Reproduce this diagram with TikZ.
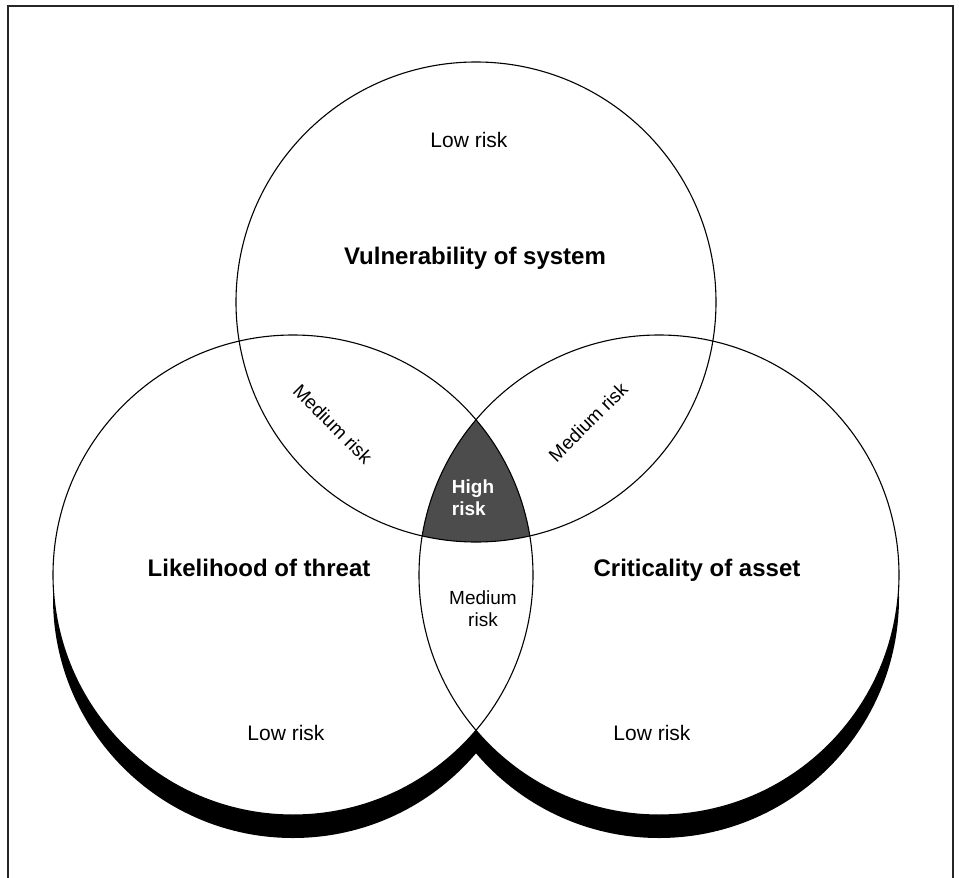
\documentclass[tikz,border=0pt]{standalone}
\usepackage{fontspec}
\setmainfont{Liberation Sans}
\begin{document}
\begin{tikzpicture}[x=1pt,y=-1pt,
  ring/.style={line width=1.1pt, draw=black},
  lowlbl/.style={font=\fontsize{21}{25}\selectfont},
  medlbl/.style={font=\fontsize{19}{22}\selectfont, align=center},
  titlelbl/.style={font=\fontsize{24}{28}\selectfont\bfseries},
  highlbl/.style={font=\fontsize{19}{22}\selectfont\bfseries, text=white, align=left}
]
\useasboundingbox (0,0) rectangle (959,878);
\fill[white] (0,0) rectangle (959,878);
% frame
\draw[line width=1.5pt, draw=black!85] (8,878) -- (8,6) -- (953,6) -- (953,878);
% centres
\coordinate (cT) at (476,302);
\coordinate (cL) at (293,575);
\coordinate (cR) at (659,575);
% shadows of the two lower circles
\fill[black] (293,598) circle[radius=240];
\fill[black] (659,598) circle[radius=240];
% white discs
\fill[white] (cT) circle[radius=240];
\fill[white] (cL) circle[radius=240];
\fill[white] (cR) circle[radius=240];
% high risk region
\begin{scope}
  \clip (cT) circle[radius=240];
  \clip (cL) circle[radius=240];
  \fill[black!70] (cR) circle[radius=240];
\end{scope}
% outlines
\draw[ring] (cT) circle[radius=240];
\draw[ring] (cL) circle[radius=240];
\draw[ring] (cR) circle[radius=240];
% labels
\node[lowlbl] (lowT) at (469,140) {Low risk};
\node[titlelbl] (vuln) at (475,258) {Vulnerability of system};
\node[medlbl, rotate=-45] (medL) at (333,424) {Medium risk};
\node[medlbl, rotate=45] (medR) at (588,422) {Medium risk};
\node[highlbl] (high) at (473,498) {High\\risk};
\node[titlelbl] (likely) at (259,568) {Likelihood of threat};
\node[titlelbl] (crit) at (697,570) {Criticality of asset};
\node[medlbl] (medB) at (483,609) {Medium\\risk};
\node[lowlbl] (lowL) at (286,733) {Low risk};
\node[lowlbl] (lowR) at (652,733) {Low risk};
\end{tikzpicture}
\end{document}
